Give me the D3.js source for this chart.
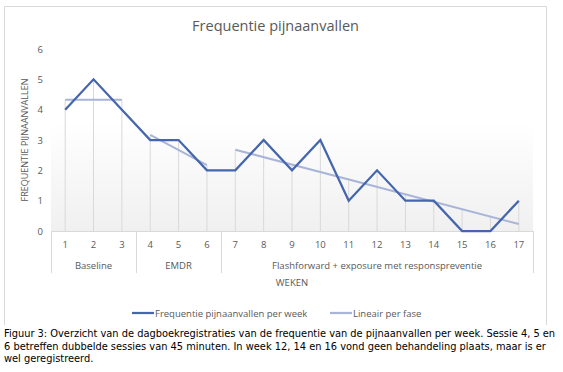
<!DOCTYPE html>
<html lang="nl">
<head>
<meta charset="UTF-8">
<title>Frequentie pijnaanvallen</title>
<script src="https://d3js.org/d3.v7.min.js"></script>
<style>
    body { margin: 0; padding: 0; background: #fff; }
    svg { display: block; }
    .tick text { fill: #595959; font-family: "Open Sans", "Noto Sans", sans-serif; font-size: 9.5px; }
</style>
</head>
<body>
<svg id="chart" width="563" height="372"></svg>
<script>
    const width = 563, height = 372;
    const svg = d3.select("#chart");

    // data
    const weeks = d3.range(1, 18);
    const frequentie = [4, 5, 4, 3, 3, 2, 2, 3, 2, 3, 1, 2, 1, 1, 0, 0, 1];
    const phaseNames = ["Baseline", "EMDR", "Flashforward + exposure met responspreventie"];
    const phaseStart = [1, 4, 7];
    const phaseEnd = [3, 6, 17];
    const lineairStart = [4.33, 3.17, 2.68];
    const lineairEnd = [4.33, 2.17, 0.23];
    const yTicks = [0, 1, 2, 3, 4, 5, 6];
    const caption = [
        "Figuur 3: Overzicht van de dagboekregistraties van de frequentie van de pijnaanvallen per week. Sessie 4, 5 en",
        "6 betreffen dubbelde sessies van 45 minuten. In week 12, 14 en 16 vond geen behandeling plaats, maar is er",
        "wel geregistreerd."
    ];

    const plot = { left: 51, right: 533, top: 49, bottom: 231 };
    const font = "'Open Sans', 'Noto Sans', sans-serif";

    const x = d3.scaleBand().domain(weeks).range([plot.left, plot.right]).padding(0);
    const cx = w => x(w) + x.bandwidth() / 2;
    const y = d3.scaleLinear().domain([0, 6]).range([plot.bottom, plot.top]);

    // chart border (bottom hidden behind caption)
    svg.append("path")
        .attr("d", "M4.5,325 V6.5 H546.5 V325")
        .attr("fill", "none").attr("stroke", "#d9d9d9");

    // plot background gradient
    const grad = svg.append("defs").append("linearGradient")
        .attr("id", "bg").attr("x1", 0).attr("y1", 0).attr("x2", 0).attr("y2", 1);
    grad.append("stop").attr("offset", "0%").attr("stop-color", "#ffffff");
    grad.append("stop").attr("offset", "40%").attr("stop-color", "#ffffff");
    grad.append("stop").attr("offset", "100%").attr("stop-color", "#f0f0f0");
    svg.append("rect")
        .attr("x", plot.left).attr("y", plot.top)
        .attr("width", plot.right - plot.left).attr("height", plot.bottom - plot.top)
        .attr("fill", "url(#bg)");

    // title
    svg.append("text")
        .attr("x", 275.5).attr("y", 31)
        .attr("text-anchor", "middle")
        .attr("font-family", font).attr("font-size", 14.5)
        .attr("fill", "#595959")
        .text("Frequentie pijnaanvallen");

    // drop lines from highest value at each week
    const lineairAt = w => {
        const i = phaseStart.findIndex((s, k) => w >= s && w <= phaseEnd[k]);
        const t = (w - phaseStart[i]) / (phaseEnd[i] - phaseStart[i]);
        return lineairStart[i] + t * (lineairEnd[i] - lineairStart[i]);
    };
    svg.append("g").selectAll("line")
        .data(weeks)
        .join("line")
        .attr("x1", d => cx(d)).attr("x2", d => cx(d))
        .attr("y1", (d, i) => y(Math.max(frequentie[i], lineairAt(d))))
        .attr("y2", y(0))
        .attr("stroke", "#d9d9d9").attr("stroke-width", 1);

    // category axis baseline + phase separators
    svg.append("line")
        .attr("x1", plot.left).attr("x2", plot.right)
        .attr("y1", y(0) + 0.5).attr("y2", y(0) + 0.5)
        .attr("stroke", "#d9d9d9");
    const sepX = phaseStart.map(s => x(s)).concat([plot.right]);
    svg.append("g").selectAll("line")
        .data(sepX)
        .join("line")
        .attr("x1", d => Math.round(d) + 0.5).attr("x2", d => Math.round(d) + 0.5)
        .attr("y1", y(0)).attr("y2", 273)
        .attr("stroke", "#d9d9d9");

    // week labels
    svg.append("g")
        .attr("transform", `translate(0,${y(0) + 7})`)
        .call(d3.axisBottom(x).tickSize(0))
        .call(g => g.select(".domain").remove());

    // phase labels
    svg.append("g").selectAll("text")
        .data(phaseNames)
        .join("text")
        .attr("x", (d, i) => (x(phaseStart[i]) + x(phaseEnd[i]) + x.bandwidth()) / 2)
        .attr("y", 269)
        .attr("text-anchor", "middle")
        .attr("font-family", font).attr("font-size", 9.5)
        .attr("fill", "#595959")
        .text(d => d);

    // x axis title
    svg.append("text")
        .attr("x", (plot.left + plot.right) / 2).attr("y", 286)
        .attr("text-anchor", "middle")
        .attr("font-family", font).attr("font-size", 9.5)
        .attr("fill", "#595959")
        .text("WEKEN");

    // y axis
    svg.append("g")
        .attr("transform", `translate(${plot.left - 8},0)`)
        .call(d3.axisLeft(y).tickValues(yTicks).tickFormat(d3.format("d")).tickSize(0).tickPadding(0))
        .call(g => g.select(".domain").remove());

    svg.append("text")
        .attr("transform", `translate(28,${(plot.top + plot.bottom) / 2}) rotate(-90)`)
        .attr("text-anchor", "middle")
        .attr("font-family", font).attr("font-size", 9)
        .attr("fill", "#595959")
        .text("FREQUENTIE PIJNAANVALLEN");

    // lineair per fase
    svg.append("g").selectAll("line")
        .data(phaseNames)
        .join("line")
        .attr("x1", (d, i) => cx(phaseStart[i])).attr("x2", (d, i) => cx(phaseEnd[i]))
        .attr("y1", (d, i) => y(lineairStart[i])).attr("y2", (d, i) => y(lineairEnd[i]))
        .attr("stroke", "#a9b5d8").attr("stroke-width", 2);

    // main series
    const line = d3.line().x((d, i) => cx(weeks[i])).y(d => y(d));
    svg.append("path")
        .datum(frequentie)
        .attr("d", line)
        .attr("fill", "none")
        .attr("stroke", "#4566ad").attr("stroke-width", 2.25)
        .attr("stroke-linejoin", "miter");

    // legend
    const legend = [
        { label: "Frequentie pijnaanvallen per week", color: "#4566ad", x: 132 },
        { label: "Lineair per fase", color: "#a9b5d8", x: 330 }
    ];
    const lg = svg.append("g").selectAll("g").data(legend).join("g")
        .attr("transform", d => `translate(${d.x},313)`);
    lg.append("line").attr("x1", 0).attr("x2", 22)
        .attr("stroke", d => d.color).attr("stroke-width", 2.25);
    lg.append("text").attr("x", 23).attr("y", 3.5)
        .attr("font-family", font).attr("font-size", 9.5)
        .attr("fill", "#595959")
        .text(d => d.label);

    // caption
    svg.append("g").selectAll("text")
        .data(caption)
        .join("text")
        .attr("x", 4).attr("y", (d, i) => 337 + i * 12.5)
        .attr("font-family", "'DejaVu Sans', Verdana, sans-serif")
        .attr("font-size", 9.85)
        .attr("fill", "#000")
        .text(d => d);
</script>
</body>
</html>
